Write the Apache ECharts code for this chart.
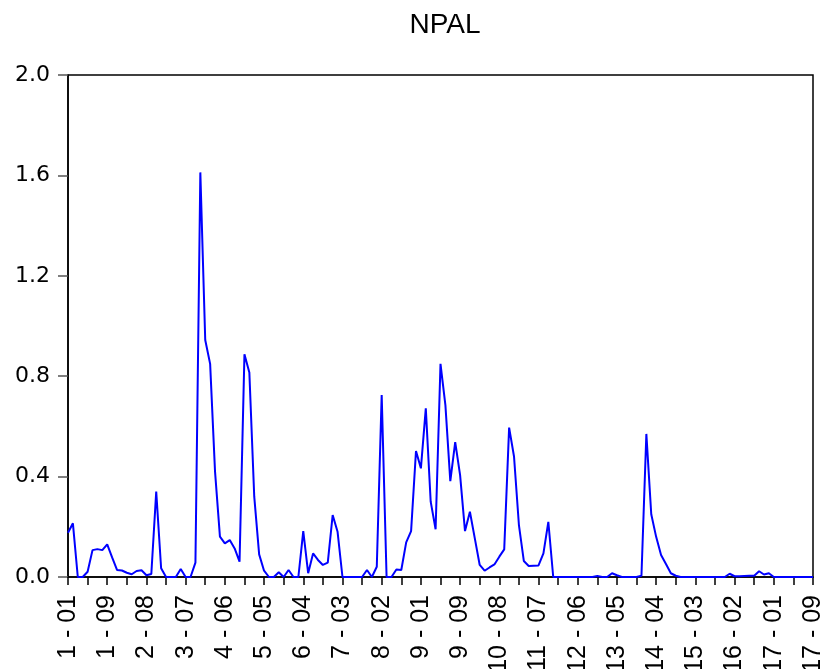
<!DOCTYPE html>
<html>
<head>
<meta charset="utf-8">
<style>html,body{margin:0;padding:0;background:#fff}#c{width:829px;height:669px}</style>
<script src="https://cdn.jsdelivr.net/npm/echarts@6/dist/echarts.min.js"></script>
</head>
<body>
<div id="c"></div>
<script>
// Period structure: years 1..17, 9 sub-periods per year, from 1-01 to 17-09
var years = [1,2,3,4,5,6,7,8,9,10,11,12,13,14,15,16,17];
var periodsPerYear = ['01','02','03','04','05','06','07','08','09'];
var categories = [];
years.forEach(function(y){ periodsPerYear.forEach(function(p){ categories.push(y + ' - ' + p); }); });

var tickLabels = ['1 - 01','1 - 09','2 - 08','3 - 07','4 - 06','5 - 05','6 - 04','7 - 03','8 - 02','9 - 01',
  '9 - 09','10 - 08','11 - 07','12 - 06','13 - 05','14 - 04','15 - 03','16 - 02','17 - 01','17 - 09'];

var npal = [
  0.176,0.214,0,0,0.021,0.107,0.111,0.107,0.130,0.078,
  0.028,0.026,0.017,0.011,0.024,0.027,0.007,0.012,0.340,0.035,
  0,0,0,0.032,0,0,0.057,1.612,0.944,0.849,
  0.420,0.161,0.134,0.147,0.114,0.061,0.887,0.815,0.320,0.090,
  0.025,0,0,0.019,0,0.028,0,0,0.183,0.015,
  0.094,0.068,0.048,0.057,0.247,0.180,0,0,0,0,
  0,0.028,0,0.041,0.725,0,0,0.030,0.028,0.138,
  0.183,0.502,0.433,0.672,0.300,0.190,0.849,0.685,0.382,0.537,
  0.406,0.183,0.260,0.154,0.048,0.025,0.038,0.050,0.081,0.110,
  0.595,0.480,0.207,0.064,0.044,0.045,0.046,0.094,0.220,0,
  0,0,0,0,0,0,0,0,0.004,0,
  0,0.015,0.007,0,0,0,0,0.005,0.570,0.250,
  0.160,0.088,0.052,0.015,0.005,0,0,0,0,0,
  0,0,0,0,0,0.013,0.003,0.003,0.004,0.005,
  0.005,0.023,0.010,0.015,0,0,0,0,0,0,
  0,0,0
];

var yTicks = [0.0,0.4,0.8,1.2,1.6,2.0];

var chart = echarts.init(document.getElementById('c'), null, {renderer:'canvas'});
chart.setOption({
  animation:false,
  backgroundColor:'#ffffff',
  title:{
    text:'NPAL', left:'440', textAlign:'center', top:6,
    textStyle:{fontFamily:'Liberation Sans, Arial, sans-serif', fontSize:28, fontWeight:'normal', color:'#000'}
  },
  grid:{left:68, right:16, top:75, bottom:92, outerBoundsMode:'none', containLabel:false,
    show:true, borderColor:'#000', borderWidth:1.5, backgroundColor:'transparent'},
  xAxis:{
    type:'category', data:categories, boundaryGap:false,
    axisLine:{show:true, lineStyle:{color:'#000', width:1.5}},
    axisTick:{show:true, interval:3, length:8, inside:false, lineStyle:{color:'#000', width:1.5}},
    axisLabel:{
      interval:7, rotate:90, margin:18, color:'#000',
      fontFamily:'Liberation Sans Narrow, Arial Narrow, Liberation Sans, sans-serif', fontSize:25,
      formatter:function(v){ return tickLabels.indexOf(v) >= 0 ? v : ''; }
    },
    splitLine:{show:false}
  },
  yAxis:{
    type:'value', min:0, max:2.0, interval:0.4,
    axisLine:{show:true, lineStyle:{color:'#000', width:1.5}},
    axisTick:{show:true, length:10, lineStyle:{color:'#555', width:1.5}},
    axisLabel:{margin:18, color:'#000', fontFamily:'DejaVu Sans, sans-serif', fontSize:22,
      formatter:function(v){ return yTicks.indexOf(Math.round(v*10)/10) >= 0 ? v.toFixed(1) : ''; }},
    splitLine:{show:false}
  },
  series:[{
    type:'line', data:npal, showSymbol:false, symbol:'none',
    lineStyle:{color:'#0000ff', width:2}, itemStyle:{color:'#0000ff'}
  }]
});
</script>
</body>
</html>
